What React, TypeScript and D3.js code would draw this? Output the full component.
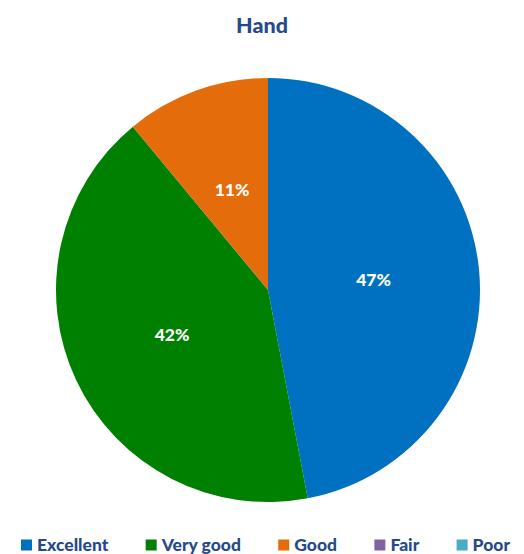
import React, { useEffect, useRef } from "react";
import * as d3 from "d3";

const categories = ["Excellent", "Very good", "Good", "Fair", "Poor"];
const values = [0.47, 0.42, 0.11, 0, 0];
const colors = ["#0070C0", "#008000", "#E46C0A", "#8064A2", "#4BACC6"];
const title = "Hand";

const W = 524;
const H = 554;
const FONT = "Lato, Calibri, 'Open Sans', sans-serif";
const TEXT_COLOR = "#264A88";

export default function App() {
  const ref = useRef<SVGSVGElement | null>(null);

  useEffect(() => {
    const svg = d3.select(ref.current);
    svg.selectAll("*").remove();

    svg
      .append("text")
      .attr("x", 262)
      .attr("y", 33)
      .attr("text-anchor", "middle")
      .attr("font-family", FONT)
      .attr("font-weight", "900")
      .attr("font-size", 21.5)
      .attr("fill", TEXT_COLOR)
      .text(title);

    const cx = 268;
    const cy = 290;
    const r = 212;
    const data = categories.map((c, i) => ({ c, v: values[i], color: colors[i] }));
    const pie = d3
      .pie<{ c: string; v: number; color: string }>()
      .value((d) => d.v)
      .sort(null);
    const arcs = pie(data);
    const arc = d3
      .arc<d3.PieArcDatum<{ c: string; v: number; color: string }>>()
      .innerRadius(0)
      .outerRadius(r);
    const labelArc = d3
      .arc<d3.PieArcDatum<{ c: string; v: number; color: string }>>()
      .innerRadius(r * 0.5)
      .outerRadius(r * 0.5);

    const g = svg.append("g").attr("transform", `translate(${cx},${cy})`);
    g.selectAll("path")
      .data(arcs.filter((a) => a.data.v > 0))
      .join("path")
      .attr("d", arc as any)
      .attr("fill", (d) => d.data.color);

    g.selectAll("text.lbl")
      .data(arcs.filter((a) => a.data.v > 0))
      .join("text")
      .attr("class", "lbl")
      .attr("transform", (d) => {
        const [x, y] = labelArc.centroid(d);
        return `translate(${x},${y})`;
      })
      .attr("text-anchor", "middle")
      .attr("dy", "0.35em")
      .attr("font-family", FONT)
      .attr("font-weight", "900")
      .attr("font-size", 17.5)
      .attr("fill", "#FFFFFF")
      .text((d) => `${Math.round(d.data.v * 100)}%`);

    // Legend
    const lg = svg.append("g");
    const items = lg
      .selectAll("g.item")
      .data(data)
      .join("g")
      .attr("class", "item");
    items
      .append("rect")
      .attr("width", 11)
      .attr("height", 11)
      .attr("y", -5.5)
      .attr("fill", (d) => d.color);
    items
      .append("text")
      .attr("x", 16)
      .attr("dy", "0.35em")
      .attr("font-family", FONT)
      .attr("font-weight", "900")
      .attr("font-size", 17.5)
      .attr("fill", TEXT_COLOR)
      .text((d) => d.c);

    const widths: number[] = [];
    items.each(function () {
      const t = d3.select(this).select("text").node() as SVGTextElement;
      widths.push(16 + t.getComputedTextLength());
    });
    const startX = 21;
    const endX = 510;
    const sumW = widths.reduce((a, b) => a + b, 0);
    const gap = (endX - startX - sumW) / (widths.length - 1);
    let x = startX;
    items.attr("transform", (_d, i) => {
      const tx = x;
      x += widths[i] + gap;
      return `translate(${tx},545)`;
    });
  }, []);

  return (
    <svg
      ref={ref}
      width={W}
      height={H}
      style={{ position: "absolute", left: 0, top: 0, background: "#fff" }}
    />
  );
}
